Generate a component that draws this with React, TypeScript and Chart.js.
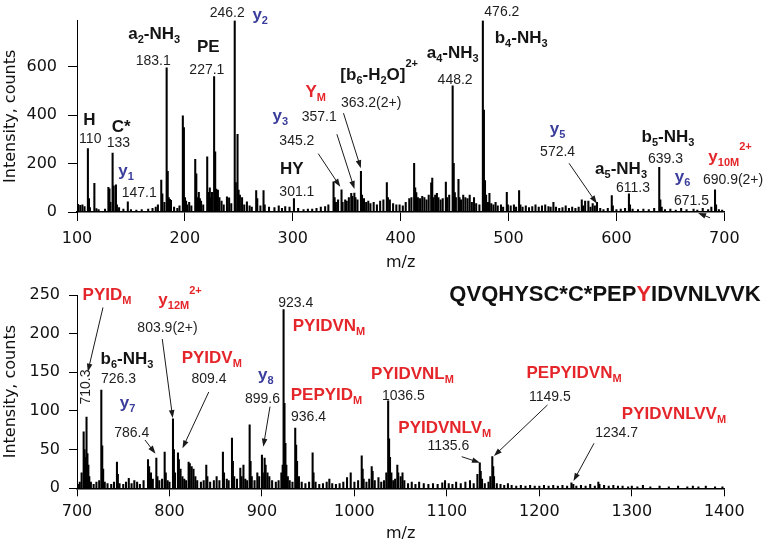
import React, { useEffect, useRef } from 'react';
import { Chart, registerables } from 'chart.js';

Chart.register(...registerables);

// ---------- DATA ----------
// Upper panel peaks: [m/z, intensity (counts)]
const topPeaks: [number, number][] = [
  [101, 32], [103, 28], [105, 30], [107, 22], [110.1, 262], [111.1, 55], [112, 18], [116.1, 118], [118, 14], [120, 10],
  [126, 12], [129.1, 102], [130.1, 96], [131, 40], [133.0, 243], [134.0, 108], [136.1, 112], [137, 30], [139, 18], [143, 12],
  [147.1, 42], [150, 10], [155, 8], [160, 10], [166, 12], [170, 15], [173, 20], [175, 30], [178.1, 132], [179.1, 75],
  [181, 40], [183.1, 595], [184.1, 168], [185.1, 60], [186.1, 52], [187.1, 48], [190, 20], [193, 15], [195, 25], [198.1, 397],
  [199.1, 348], [200.1, 60], [201.1, 45], [202, 30], [204, 40], [206, 25], [209.6, 217], [210.6, 158], [211.6, 60], [212.9, 81],
  [213.9, 55], [215, 45], [217, 30], [220.7, 228], [221.9, 81], [223.1, 100], [224.1, 60], [225.1, 81], [227.1, 559], [228.1, 248],
  [229.1, 95], [230.6, 90], [232, 60], [234, 45], [236, 30], [239, 63], [241, 58], [243, 35], [246.2, 790], [247.2, 121],
  [248.8, 321], [249.8, 90], [251, 70], [253, 60], [255, 30], [257.5, 42], [260, 25], [262, 20], [266.1, 88], [267.1, 55],
  [270, 25], [272.9, 88], [274, 30], [278, 20], [283, 18], [287, 25], [290, 15], [293, 22], [297, 20], [301.1, 55],
  [305, 15], [310, 10], [314, 12], [318, 12], [322, 15], [326, 20], [330, 22], [333, 30], [337.8, 125], [338.8, 60],
  [340, 40], [342, 50], [345.2, 91], [346.2, 40], [348.6, 50], [350, 45], [352, 60], [354.2, 77], [355.2, 65], [357.1, 78],
  [358.1, 60], [360, 50], [363.2, 168], [364.2, 70], [366, 55], [368, 40], [370, 45], [372, 35], [375, 40], [378, 30],
  [381, 45], [384, 50], [387.2, 121], [388.2, 60], [390, 50], [393, 35], [396, 30], [399, 30], [402, 25], [404.7, 40],
  [408, 55], [410, 60], [412.5, 201], [413.5, 100], [414.5, 80], [416, 60], [418, 55], [420, 65], [422, 60], [424, 50],
  [426, 70], [428.3, 120], [429.3, 140], [430.3, 60], [432, 70], [433.6, 77], [435, 60], [437, 50], [439, 55], [441.9, 124],
  [443, 60], [445, 70], [448.2, 521], [449.2, 201], [450.2, 80], [451.2, 60], [453.6, 135], [454.6, 60], [456, 50], [458, 70],
  [460, 60], [462, 55], [464, 70], [466, 40], [468, 60], [470, 35], [473, 30], [476.2, 790], [477.2, 421], [478.2, 130],
  [479.2, 70], [481, 40], [482.3, 77], [484, 35], [486, 30], [488, 40], [490, 25], [493, 30], [495, 20], [498.4, 81],
  [499.4, 30], [502, 25], [505, 30], [507, 20], [509.8, 88], [511, 30], [513, 20], [516, 25], [519, 18], [522, 22],
  [525, 30], [528, 20], [531, 25], [534, 30], [537, 22], [539, 20], [541.6, 40], [544, 20], [547, 15], [550, 18],
  [553, 25], [556, 15], [559, 20], [562, 15], [565, 20], [567.9, 50], [569, 25], [571, 45], [574, 45], [576, 20],
  [578, 35], [580, 25], [582, 40], [585, 15], [588, 10], [592, 15], [595.7, 68], [596.7, 25], [600, 10], [604, 12],
  [608, 15], [611.6, 75], [612.6, 30], [615, 12], [620, 10], [625, 12], [630, 10], [635, 15], [639.7, 184], [640.7, 50],
  [642, 20], [645, 10], [650, 12], [655, 8], [660, 15], [665, 10], [671.5, 12], [675, 8], [680, 15], [685, 10],
  [688, 20], [691.4, 92], [692.4, 30], [695, 10], [698, 8],
];

// Lower panel peaks: [m/z, intensity (counts)]
const bottomPeaks: [number, number][] = [
  [701, 5], [703, 8], [705, 20], [707.2, 73], [708.2, 50], [709, 40], [710.3, 92], [711.3, 45], [712.3, 30], [713.3, 15],
  [715, 8], [718, 5], [721, 8], [724, 10], [726.3, 127], [727.3, 55], [728.3, 25], [730, 8], [733, 6], [737, 5],
  [740, 8], [743.2, 34], [744.2, 18], [746, 6], [750, 5], [753, 8], [756, 13], [759, 6], [762, 10], [765, 8],
  [768, 5], [772, 10], [776.8, 37], [778, 28], [780, 20], [782, 12], [785.8, 39], [787, 15], [789, 10], [792, 12],
  [794.8, 47], [796, 20], [798, 10], [800, 8], [803.8, 90], [804.8, 50], [806, 20], [809.2, 46], [810.2, 37], [812, 25],
  [814, 15], [816, 12], [818, 10], [820.7, 34], [822, 32], [824, 28], [826, 25], [828, 15], [830, 10], [834, 8],
  [837, 10], [839.8, 30], [841, 15], [844, 8], [848, 10], [851, 15], [854, 10], [857.8, 47], [859, 20], [862, 12],
  [864, 10], [867.6, 65], [868.6, 35], [870, 15], [873, 12], [876.6, 26], [878, 15], [880, 30], [882, 12], [884, 10],
  [886.7, 82], [887.7, 35], [889, 15], [892, 10], [895, 20], [897, 15], [900, 43], [901, 20], [902.9, 39], [904, 30],
  [906, 20], [908, 15], [911, 10], [915, 8], [918, 10], [921, 20], [922.4, 30], [923.4, 231], [924.4, 110], [925.4, 58],
  [926.4, 30], [928, 15], [930, 10], [933, 8], [936.0, 78], [937, 56], [938, 35], [940, 15], [943, 8], [947, 6],
  [951, 8], [954.8, 46], [955.8, 20], [958, 8], [962, 5], [966, 6], [970, 8], [972.9, 12], [976, 6], [980, 5],
  [984, 6], [988, 8], [992, 14], [996, 20], [1000, 8], [1004, 10], [1007.9, 42], [1008.9, 25], [1010, 12], [1013, 8],
  [1016, 12], [1018.7, 28], [1019.7, 22], [1022, 10], [1026, 14], [1029, 8], [1032, 10], [1034.5, 20], [1036.5, 113], [1037.5, 64],
  [1038.5, 40], [1040, 20], [1042, 10], [1044, 12], [1046.4, 30], [1047.4, 20], [1050, 15], [1052, 20], [1054, 10], [1058, 6],
  [1062, 8], [1066, 5], [1070, 8], [1075, 6], [1080, 5], [1085, 6], [1090, 5], [1095, 7], [1098, 10], [1102, 6],
  [1106, 5], [1110, 8], [1115, 6], [1120, 8], [1125, 10], [1129, 6], [1133, 18], [1135.6, 33], [1136.6, 22], [1138, 12],
  [1141, 6], [1145, 8], [1147, 15], [1149.1, 41], [1150.1, 28], [1151, 15], [1154, 6], [1158, 5], [1162, 4], [1166, 6],
  [1170, 4], [1175, 3], [1180, 4], [1185, 3], [1190, 4], [1195, 3], [1200, 3], [1205, 4], [1210, 3], [1215, 4],
  [1220, 3], [1225, 4], [1230, 3], [1234.7, 7], [1236.7, 5], [1240, 3], [1245, 4], [1250, 3], [1255, 5], [1260, 3],
  [1263.8, 8], [1265, 5], [1270, 4], [1275, 3], [1280, 4], [1285, 3], [1290, 3], [1296, 2], [1300, 3], [1306, 2],
  [1312, 4], [1320, 2], [1330, 3], [1340, 2], [1350, 3], [1360, 2], [1366, 3], [1372, 2], [1380, 3], [1390, 2], [1398, 2],
];

const topXTicks = [100, 200, 300, 400, 500, 600, 700];
const topYTicks = [0, 200, 400, 600];
const bottomXTicks = [700, 800, 900, 1000, 1100, 1200, 1300, 1400];
const bottomYTicks = [0, 50, 100, 150, 200, 250];

type Part = string | { t: string; k: 'sub' | 'sup' | 'red'; dy?: number };
const sub = (t: string): Part => ({ t, k: 'sub' });
const sup = (t: string, dy = -10): Part => ({ t, k: 'sup', dy });
const redPart = (t: string): Part => ({ t, k: 'red' });

type Label = { x: number; y: number; kind: 'num' | 'black' | 'blue' | 'red' | 'title'; parts: Part[]; rotate?: boolean };

// Annotations in data coordinates (m/z, counts): text baseline centre
const topLabels: Label[] = [
  { x: 239.3, y: 804, kind: 'num', parts: ['246.2'] },
  { x: 269.8, y: 792, kind: 'blue', parts: ['y', sub('2')] },
  { x: 171.6, y: 712, kind: 'black', parts: ['a', sub('2'), '-NH', sub('3')] },
  { x: 170.7, y: 608, kind: 'num', parts: ['183.1'] },
  { x: 221.7, y: 661, kind: 'black', parts: ['PE'] },
  { x: 220.4, y: 568, kind: 'num', parts: ['227.1'] },
  { x: 111.4, y: 361, kind: 'black', parts: ['H'] },
  { x: 112.3, y: 285, kind: 'num', parts: ['110'] },
  { x: 141, y: 332, kind: 'black', parts: ['C*'] },
  { x: 138.3, y: 268, kind: 'num', parts: ['133'] },
  { x: 145.4, y: 148, kind: 'blue', parts: ['y', sub('1')] },
  { x: 157.7, y: 61, kind: 'num', parts: ['147.1'] },
  { x: 288.4, y: 376, kind: 'blue', parts: ['y', sub('3')] },
  { x: 303.8, y: 276, kind: 'num', parts: ['345.2'] },
  { x: 299.2, y: 155, kind: 'black', parts: ['HY'] },
  { x: 303.8, y: 68, kind: 'num', parts: ['301.1'] },
  { x: 321.3, y: 476, kind: 'red', parts: ['Y', sub('M')] },
  { x: 324.5, y: 376, kind: 'num', parts: ['357.1'] },
  { x: 380.1, y: 544, kind: 'black', parts: ['[b', sub('6'), '-H', sub('2'), 'O]', sup('2+', -13)] },
  { x: 372.7, y: 435, kind: 'num', parts: ['363.2(2+)'] },
  { x: 448.2, y: 637, kind: 'black', parts: ['a', sub('4'), '-NH', sub('3')] },
  { x: 450.5, y: 528, kind: 'num', parts: ['448.2'] },
  { x: 493.8, y: 808, kind: 'num', parts: ['476.2'] },
  { x: 511.7, y: 696, kind: 'black', parts: ['b', sub('4'), '-NH', sub('3')] },
  { x: 545.5, y: 320, kind: 'blue', parts: ['y', sub('5')] },
  { x: 545.5, y: 232, kind: 'num', parts: ['572.4'] },
  { x: 604.3, y: 156, kind: 'black', parts: ['a', sub('5'), '-NH', sub('3')] },
  { x: 615.4, y: 81, kind: 'num', parts: ['611.3'] },
  { x: 647.8, y: 288, kind: 'black', parts: ['b', sub('5'), '-NH', sub('3')] },
  { x: 645.5, y: 201, kind: 'num', parts: ['639.3'] },
  { x: 661.3, y: 124, kind: 'blue', parts: ['y', sub('6')] },
  { x: 669.6, y: 28, kind: 'num', parts: ['671.5'] },
  { x: 705.3, y: 208, kind: 'red', parts: ['y', sub('10M'), sup('2+', -12)] },
  { x: 708.1, y: 116, kind: 'num', parts: ['690.9(2+)'] },
];

// Arrows [fromMz, fromCounts, toMz, toCounts]
const topArrows: [number, number, number, number][] = [
  [323.6, 241, 344.0, 104],
  [340.9, 321, 357.2, 95],
  [347.0, 408, 363.1, 181],
  [556.1, 201, 581.8, 35],
  [686.8, -24, 675.7, -4],
];

const bottomLabels: Label[] = [
  { x: 732.4, y: 243.6, kind: 'red', parts: ['PYID', sub('M')] },
  { x: 709.7, y: 131, kind: 'num', parts: ['710.3'], rotate: true },
  { x: 811.4, y: 237, kind: 'red', parts: ['y', sub('12M'), sup('2+', -11)] },
  { x: 797.9, y: 202.6, kind: 'num', parts: ['803.9(2+)'] },
  { x: 754.1, y: 160.8, kind: 'black', parts: ['b', sub('6'), '-NH', sub('3')] },
  { x: 744.9, y: 135.8, kind: 'num', parts: ['726.3'] },
  { x: 754.6, y: 103.9, kind: 'blue', parts: ['y', sub('7')] },
  { x: 759.2, y: 66.8, kind: 'num', parts: ['786.4'] },
  { x: 845.7, y: 162.1, kind: 'red', parts: ['PYIDV', sub('M')] },
  { x: 842.7, y: 135.8, kind: 'num', parts: ['809.4'] },
  { x: 904.2, y: 140.1, kind: 'blue', parts: ['y', sub('8')] },
  { x: 900.6, y: 110, kind: 'num', parts: ['899.6'] },
  { x: 936.5, y: 234.9, kind: 'num', parts: ['923.4'] },
  { x: 972.5, y: 203.5, kind: 'red', parts: ['PYIDVN', sub('M')] },
  { x: 969.8, y: 114.2, kind: 'red', parts: ['PEPYID', sub('M')] },
  { x: 950.4, y: 87.1, kind: 'num', parts: ['936.4'] },
  { x: 1062.8, y: 141.4, kind: 'red', parts: ['PYIDVNL', sub('M')] },
  { x: 1052.9, y: 114.2, kind: 'num', parts: ['1036.5'] },
  { x: 1097.7, y: 71.5, kind: 'red', parts: ['PYIDVNLV', sub('M')] },
  { x: 1101.5, y: 49.5, kind: 'num', parts: ['1135.6'] },
  { x: 1237.5, y: 142.7, kind: 'red', parts: ['PEPYIDVN', sub('M')] },
  { x: 1211.3, y: 112.9, kind: 'num', parts: ['1149.5'] },
  { x: 1345.6, y: 89.6, kind: 'red', parts: ['PYIDVNLVV', sub('M')] },
  { x: 1283.6, y: 66.8, kind: 'num', parts: ['1234.7'] },
  { x: 1271, y: 242.2, kind: 'title', parts: ['QVQHYSC*C*PEP', redPart('Y'), 'IDVNLVVK'] },
];

const bottomArrows: [number, number, number, number][] = [
  [728.1, 233.9, 711.7, 150.8],
  [792.2, 193.1, 803.5, 91],
  [773.5, 62.5, 784.9, 44.8],
  [842.5, 124.6, 814.1, 51.7],
  [908.7, 105.6, 901.5, 53.8],
  [1116.0, 40.9, 1135.8, 33.1],
  [1208.8, 107.8, 1150.9, 41.8],
  [1259.1, 58.2, 1236.9, 9.4],
];

// ---------- STYLE ----------
const AXIS_FONT = '"DejaVu Sans", "Liberation Sans", sans-serif';
const LABEL_FONT = '"Liberation Sans", Arial, Helvetica, sans-serif';
const RED = '#e4262b';
const STYLES: Record<string, { size: number; weight: string; color: string }> = {
  num: { size: 14, weight: '', color: '#1e1e1e' },
  black: { size: 17, weight: 'bold ', color: '#141414' },
  blue: { size: 17, weight: 'bold ', color: '#3a3d9c' },
  red: { size: 17, weight: 'bold ', color: RED },
  title: { size: 22, weight: 'bold ', color: '#111' },
};

function drawRich(ctx: CanvasRenderingContext2D, lab: Label, cx: number, by: number) {
  const st = STYLES[lab.kind];
  const items = lab.parts.map((p) => {
    const o = typeof p === 'string' ? { t: p, k: 'n' as const, dy: undefined as number | undefined } : p;
    const small = o.k === 'sub' || o.k === 'sup';
    const size = small ? 11 : st.size;
    const font = `${st.weight}${size}px ${LABEL_FONT}`;
    ctx.font = font;
    const w = ctx.measureText(o.t).width;
    const dy = o.k === 'sub' ? 4 : o.k === 'sup' ? (o.dy ?? -10) : 0;
    const color = o.k === 'red' ? RED : st.color;
    return { t: o.t, font, w, dy, color };
  });
  const total = items.reduce((s, i) => s + i.w, 0);
  ctx.textBaseline = 'alphabetic';
  ctx.textAlign = 'left';
  if (lab.rotate) {
    ctx.save();
    ctx.translate(cx, by);
    ctx.rotate(-Math.PI / 2);
    ctx.textBaseline = 'middle';
    let x = -total / 2;
    for (const i of items) {
      ctx.font = i.font;
      ctx.fillStyle = i.color;
      ctx.fillText(i.t, x, i.dy);
      x += i.w;
    }
    ctx.restore();
    return;
  }
  let x = cx - total / 2;
  for (const i of items) {
    ctx.font = i.font;
    ctx.fillStyle = i.color;
    ctx.fillText(i.t, x, by + i.dy);
    x += i.w;
  }
}

function drawArrow(ctx: CanvasRenderingContext2D, x1: number, y1: number, x2: number, y2: number) {
  const a = Math.atan2(y2 - y1, x2 - x1);
  const L = 8;
  const W = 2.8;
  const c = Math.cos(a);
  const s = Math.sin(a);
  ctx.strokeStyle = '#1a1a1a';
  ctx.fillStyle = '#1a1a1a';
  ctx.lineWidth = 1;
  ctx.beginPath();
  ctx.moveTo(x1, y1);
  ctx.lineTo(x2 - c * L * 0.7, y2 - s * L * 0.7);
  ctx.stroke();
  ctx.beginPath();
  ctx.moveTo(x2, y2);
  ctx.lineTo(x2 - L * c + W * s, y2 - L * s - W * c);
  ctx.lineTo(x2 - L * c - W * s, y2 - L * s + W * c);
  ctx.closePath();
  ctx.fill();
}

type PanelCfg = {
  peaks: [number, number][];
  xMin: number;
  xMax: number;
  yMax: number;
  xTicks: number[];
  yTicks: number[];
  padTop: number;
  padRight: number;
  yAxisW: number;
  xAxisH: number;
  yTickLen: number;
  yTickPad: number;
  xTickLen: number;
  xTickPad: number;
  xTitlePad: number;
  labels: Label[];
  arrows: [number, number, number, number][];
};

function makeChart(canvas: HTMLCanvasElement, cfg: PanelCfg) {
  const annot = {
    id: 'annot',
    afterDraw(chart: any) {
      const ctx: CanvasRenderingContext2D = chart.ctx;
      const xs = chart.scales.x;
      const ys = chart.scales.y;
      ctx.save();
      for (const [a, b, c, d] of cfg.arrows) {
        drawArrow(ctx, xs.getPixelForValue(a), ys.getPixelForValue(b), xs.getPixelForValue(c), ys.getPixelForValue(d));
      }
      for (const lab of cfg.labels) {
        drawRich(ctx, lab, xs.getPixelForValue(lab.x), ys.getPixelForValue(lab.y));
      }
      ctx.restore();
    },
  };
  const axisFont = { family: AXIS_FONT, size: 16 };
  return new Chart(canvas, {
    type: 'bar',
    data: {
      datasets: [
        {
          data: cfg.peaks.map(([x, y]) => ({ x, y })),
          backgroundColor: '#000',
          borderWidth: 0,
          barThickness: 1.4,
          grouped: false,
        } as any,
      ],
    },
    options: {
      responsive: false,
      animation: false,
      devicePixelRatio: 1,
      layout: { padding: { left: 0, right: cfg.padRight, top: cfg.padTop, bottom: 0 } },
      plugins: { legend: { display: false }, tooltip: { enabled: false }, title: { display: false } },
      scales: {
        x: {
          type: 'linear',
          min: cfg.xMin,
          max: cfg.xMax,
          offset: false,
          afterFit: (s: any) => {
            s.height = cfg.xAxisH;
          },
          afterBuildTicks: (s: any) => {
            s.ticks = cfg.xTicks.map((v) => ({ value: v }));
          },
          grid: { drawOnChartArea: false, drawTicks: true, tickLength: cfg.xTickLen, color: '#000', lineWidth: 1, offset: false },
          border: { display: true, color: '#000', width: 1.5 },
          ticks: {
            padding: cfg.xTickPad,
            font: axisFont,
            color: '#111',
            maxRotation: 0,
            autoSkip: false,
            callback: (v: any) => String(v),
          },
          title: { display: true, text: 'm/z', font: axisFont, color: '#111', padding: { top: 0, bottom: cfg.xTitlePad } },
        },
        y: {
          type: 'linear',
          min: 0,
          max: cfg.yMax,
          afterFit: (s: any) => {
            s.width = cfg.yAxisW;
          },
          afterBuildTicks: (s: any) => {
            s.ticks = cfg.yTicks.map((v) => ({ value: v }));
          },
          grid: { drawOnChartArea: false, drawTicks: true, tickLength: cfg.yTickLen, color: '#000', lineWidth: 1 },
          border: { display: true, color: '#000', width: 1 },
          ticks: { padding: cfg.yTickPad, font: axisFont, color: '#111', callback: (v: any) => String(v) },
          title: { display: true, text: 'Intensity, counts', font: axisFont, color: '#111', padding: { top: 1, bottom: 0 } },
        },
      },
    } as any,
    plugins: [annot],
  });
}

const TOP_CFG: PanelCfg = {
  peaks: topPeaks,
  xMin: 100,
  xMax: 700,
  yMax: 790,
  xTicks: topXTicks,
  yTicks: topYTicks,
  padTop: 15,
  padRight: 41.7,
  yAxisW: 77,
  xAxisH: 60,
  yTickLen: 9,
  yTickPad: 11,
  xTickLen: 9,
  xTickPad: 8,
  xTitlePad: 0,
  labels: topLabels,
  arrows: topArrows,
};

const BOTTOM_CFG: PanelCfg = {
  peaks: bottomPeaks,
  xMin: 700,
  xMax: 1400,
  yMax: 250,
  xTicks: bottomXTicks,
  yTicks: bottomYTicks,
  padTop: 25,
  padRight: 41.7,
  yAxisW: 77,
  xAxisH: 56.7,
  yTickLen: 8,
  yTickPad: 9,
  xTickLen: 8,
  xTickPad: 6,
  xTitlePad: 2,
  labels: bottomLabels,
  arrows: bottomArrows,
};

export default function App() {
  const topRef = useRef<HTMLCanvasElement>(null);
  const botRef = useRef<HTMLCanvasElement>(null);
  useEffect(() => {
    const c1 = makeChart(topRef.current as HTMLCanvasElement, TOP_CFG);
    const c2 = makeChart(botRef.current as HTMLCanvasElement, BOTTOM_CFG);
    return () => {
      c1.destroy();
      c2.destroy();
    };
  }, []);
  return (
    <div style={{ position: 'absolute', left: 0, top: 0, width: 766, height: 545, background: '#fff', overflow: 'hidden' }}>
      <canvas ref={topRef} width={766} height={272} style={{ position: 'absolute', left: 0, top: 0 }} />
      <canvas ref={botRef} width={766} height={275} style={{ position: 'absolute', left: 0, top: 270 }} />
    </div>
  );
}
